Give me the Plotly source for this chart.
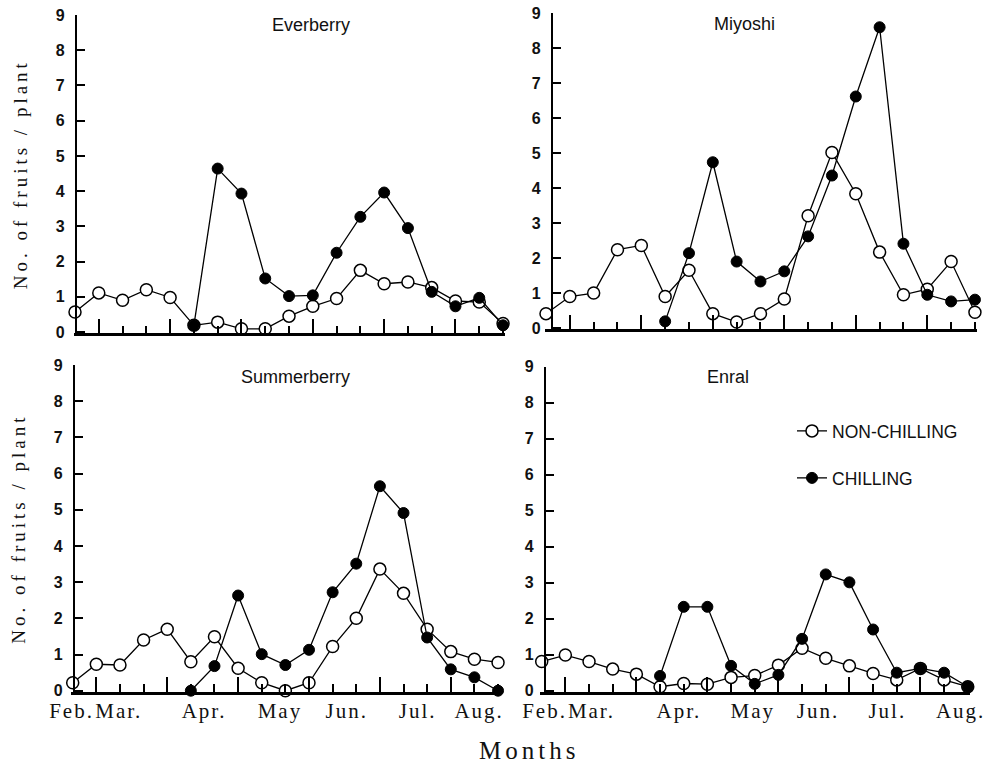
import plotly.graph_objects as go

# ---------------- data ----------------
PERIODS = list(range(19))  # half-month sampling periods, Feb -> Aug
MONTHS = ["Feb.", "Mar.", "Apr.", "May", "Jun.", "Jul.", "Aug."]
CULTIVARS = ["Everberry", "Miyoshi", "Summerberry", "Enral"]

everberry_non = [0.57, 1.11, 0.90, 1.20, 0.98, 0.19, 0.28, 0.09, 0.09, 0.45, 0.73, 0.95, 1.75, 1.37, 1.42, 1.26, 0.88, 0.85, 0.24]
everberry_chill = [None, None, None, None, None, 0.19, 4.64, 3.93, 1.52, 1.02, 1.04, 2.25, 3.27, 3.96, 2.95, 1.14, 0.73, 0.97, 0.19]

miyoshi_non = [0.41, 0.90, 1.00, 2.24, 2.36, 0.90, 1.65, 0.41, 0.17, 0.41, 0.83, 3.21, 5.02, 3.84, 2.17, 0.95, 1.11, 1.90, 0.45]
miyoshi_chill = [None, None, None, None, None, 0.19, 2.14, 4.74, 1.90, 1.33, 1.62, 2.62, 4.36, 6.62, 8.60, 2.41, 0.95, 0.76, 0.81]

summer_non = [0.22, 0.73, 0.71, 1.40, 1.70, 0.80, 1.49, 0.62, 0.22, 0.0, 0.22, 1.22, 2.00, 3.36, 2.69, 1.70, 1.08, 0.87, 0.78]
summer_chill = [None, None, None, None, None, 0.0, 0.68, 2.63, 1.01, 0.71, 1.13, 2.72, 3.51, 5.65, 4.91, 1.47, 0.59, 0.37, 0.0]

enral_non = [0.81, 0.99, 0.81, 0.60, 0.46, 0.11, 0.20, 0.18, 0.37, 0.42, 0.71, 1.18, 0.90, 0.69, 0.48, 0.30, 0.62, 0.30, 0.11]
enral_chill = [None, None, None, None, None, 0.41, 2.33, 2.33, 0.69, 0.19, 0.44, 1.44, 3.23, 3.01, 1.70, 0.50, 0.62, 0.50, 0.11]

NON_SERIES = [everberry_non, miyoshi_non, summer_non, enral_non]
CHILL_SERIES = [everberry_chill, miyoshi_chill, summer_chill, enral_chill]

# ---------------- layout settings ----------------
W, H = 991, 768
SERIF = "Liberation Serif, Times New Roman, serif"
SANS = "Liberation Sans, Arial, sans-serif"

# panel geometry in pixels: first-period x, period step, y-axis x, zero y, px per unit
GEOM = [
    dict(x0=75.0, step=23.78, yax=76.0, y0=332.0, ppu=35.22),
    dict(x0=546.0, step=23.83, yax=552.0, y0=328.0, ppu=34.97),
    dict(x0=72.7, step=23.63, yax=74.0, y0=690.7, ppu=36.19),
    dict(x0=541.7, step=23.67, yax=545.0, y0=690.7, ppu=36.0),
]
XR = [-0.06, 18.08]
YR = [-0.04, 9.0]
TITLE_POS = [(311, 25), (744, 24), (295, 377), (728, 377)]
LONG_TICKS = [1, 4, 7, 10, 13, 16]
SHORT_TICKS = [2, 3, 5, 6, 8, 9, 11, 12, 14, 15, 17, 18]
MONTH_POS = {2: [-0.05, 1.95, 5.56, 8.77, 11.6, 14.6, 17.2],
             3: [0.12, 2.1, 5.80, 8.92, 11.67, 14.6, 17.7]}

fig = go.Figure()

for k in range(4):
    xa = "x" if k == 0 else f"x{k+1}"
    ya = "y" if k == 0 else f"y{k+1}"
    show = (k == 3)
    fig.add_trace(go.Scatter(
        x=PERIODS, y=NON_SERIES[k], xaxis=xa, yaxis=ya, mode="lines+markers",
        name="NON-CHILLING", legend="legend", showlegend=show,
        line=dict(color="black", width=1.3),
        marker=dict(symbol="circle", size=12, color="white", line=dict(color="black", width=1.5)),
        cliponaxis=False))
    fig.add_trace(go.Scatter(
        x=PERIODS, y=CHILL_SERIES[k], xaxis=xa, yaxis=ya, mode="lines+markers",
        name="CHILLING", legend="legend2", showlegend=show,
        line=dict(color="black", width=1.3),
        marker=dict(symbol="circle", size=11, color="black", line=dict(color="black", width=1)),
        cliponaxis=False))

# dummy traces for month-label overlay axes
fig.add_trace(go.Scatter(x=[None], y=[None], xaxis="x5", yaxis="y3", showlegend=False, hoverinfo="skip"))
fig.add_trace(go.Scatter(x=[None], y=[None], xaxis="x6", yaxis="y4", showlegend=False, hoverinfo="skip"))

layout = dict(
    width=W, height=H, margin=dict(l=0, r=0, t=0, b=0, pad=0),
    paper_bgcolor="white", plot_bgcolor="white", template="none",
    font=dict(family=SANS, color="black"),
)

for k in range(4):
    g = GEOM[k]
    left = g["x0"] + XR[0] * g["step"]
    right = g["x0"] + XR[1] * g["step"]
    bottom = g["y0"] - YR[0] * g["ppu"]
    top = g["y0"] - YR[1] * g["ppu"]
    xkey = "xaxis" if k == 0 else f"xaxis{k+1}"
    ykey = "yaxis" if k == 0 else f"yaxis{k+1}"
    ya = "y" if k == 0 else f"y{k+1}"
    layout[xkey] = dict(
        domain=[left / W, right / W], anchor=ya, range=XR,
        showgrid=False, zeroline=False, showline=True, linecolor="black", linewidth=2.6,
        tickmode="array", tickvals=LONG_TICKS, ticks="inside", ticklen=15, tickwidth=1.8,
        tickcolor="black", showticklabels=False,
        minor=dict(tickmode="array", tickvals=SHORT_TICKS, ticks="inside", ticklen=8,
                   tickwidth=1.6, tickcolor="black", showgrid=False),
    )
    ydict = dict(
        domain=[1 - bottom / H, 1 - top / H], anchor="free", position=g["yax"] / W,
        range=YR, showgrid=False, zeroline=False, showline=True, linecolor="black",
        linewidth=2.4, tickmode="array", tickvals=list(range(10)), ticks="inside",
        ticklen=8, tickwidth=1.6, tickcolor="black", ticklabelstandoff=7,
        tickfont=dict(family=SANS, size=16, color="#111", weight="bold"),
    )
    if k in (0, 2):
        ydict["title"] = dict(
            text='<span style="letter-spacing:4px">No. of fruits / plant</span>',
            font=dict(family=SERIF, size=19, color="#111"), standoff=22)
    layout[ykey] = ydict

for n, k in ((5, 2), (6, 3)):
    ya = f"y{k+1}"
    layout[f"xaxis{n}"] = dict(
        overlaying=f"x{k+1}", anchor=ya, side="bottom", range=XR,
        showgrid=False, zeroline=False, showline=False, ticks="", tickangle=0,
        tickmode="array", tickvals=MONTH_POS[k],
        ticktext=[f'<span style="letter-spacing:2px">{m}</span>' for m in MONTHS],
        tickfont=dict(family=SERIF, size=21, color="#111"), ticklabelstandoff=4,
    )

layout["legend"] = dict(x=792 / W, y=1 - 431 / H, xanchor="left", yanchor="middle",
                        bgcolor="rgba(0,0,0,0)", font=dict(family=SANS, size=17.5, color="#111"))
layout["legend2"] = dict(x=792 / W, y=1 - 478 / H, xanchor="left", yanchor="middle",
                         bgcolor="rgba(0,0,0,0)", font=dict(family=SANS, size=17.5, color="#111"))

annotations = []
for name, (px, py) in zip(CULTIVARS, TITLE_POS):
    annotations.append(dict(text=name, x=px / W, y=1 - py / H, xref="paper", yref="paper",
                            xanchor="center", yanchor="middle", showarrow=False,
                            font=dict(family=SANS, size=18, color="#111")))
annotations.append(dict(text='<span style="letter-spacing:4px">Months</span>',
                        x=529 / W, y=1 - 750 / H, xref="paper", yref="paper",
                        xanchor="center", yanchor="middle", showarrow=False,
                        font=dict(family=SERIF, size=25, color="#111")))
layout["annotations"] = annotations

fig.update_layout(**layout)
fig.write_html("out.html", config={"displayModeBar": False},
               post_script="document.body.style.margin='0px';document.body.style.padding='0px';")
